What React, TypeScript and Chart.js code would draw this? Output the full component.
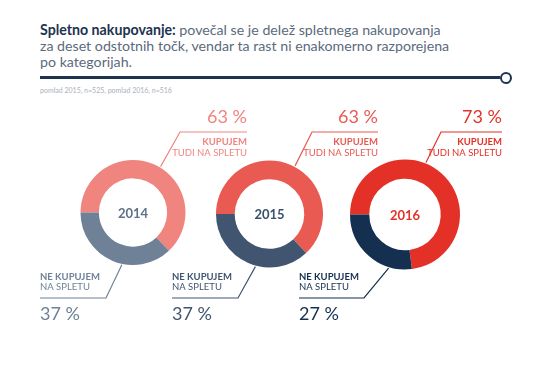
import React, { useEffect, useRef } from "react";
import { Chart, registerables } from "chart.js";

Chart.register(...registerables);

// ---- data ----
const years = ["2014", "2015", "2016"];
const buyOnline = [63, 63, 73];
const notOnline = [37, 37, 27];
const topLabelLines = ["KUPUJEM", "TUDI NA SPLETU"];
const bottomLabelLines = ["NE KUPUJEM", "NA SPLETU"];
const titleBold = "Spletno nakupovanje:";
const titleRest = [
  " povečal se je delež spletnega nakupovanja",
  "za deset odstotnih točk, vendar ta rast ni enakomerno razporejena",
  "po kategorijah.",
];
const sourceNote = "pomlad 2015, n=525, pomlad 2016, n=516";

// ---- styles / layout ----
const W = 550;
const H = 367;
const FONT = "Lato, 'Open Sans', sans-serif";
const palettes = [
  { red: "#F08580", dark: "#6E8196" },
  { red: "#E95A52", dark: "#415571" },
  { red: "#E33127", dark: "#152F50" },
];
const centerColors = ["#5E7189", "#3A4F6C", "#E33127"];
const layouts = [
  {
    cx: 133, cy: 212.5, r: 52.5,
    topAngle: 31, topCorner: [180, 132], topEnd: 247,
    botAngle: 192, botCorner: [106, 298], botStart: 40,
  },
  {
    cx: 269.5, cy: 214, r: 53.5,
    topAngle: 28, topCorner: [312, 132], topEnd: 378,
    botAngle: 195, botCorner: [238, 298], botStart: 172,
  },
  {
    cx: 405, cy: 214.5, r: 55,
    topAngle: 22, topCorner: [441, 132], topEnd: 502,
    botAngle: 197, botCorner: [364, 298], botStart: 299,
  },
];

function DonutChart({ idx }: { idx: number }) {
  const ref = useRef<HTMLCanvasElement | null>(null);
  useEffect(() => {
    if (!ref.current) return;
    const L = layouts[idx];
    const P = palettes[idx];
    const labelPlugin = {
      id: "labels" + idx,
      afterDraw(chart: any) {
        const ctx = chart.ctx as CanvasRenderingContext2D;
        const arc: any = chart.getDatasetMeta(0).data[0];
        if (!arc) return;
        const { x, y, outerRadius } = arc.getProps(["x", "y", "outerRadius"], true);
        ctx.save();
        // center year
        ctx.fillStyle = centerColors[idx];
        ctx.font = `bold 13px ${FONT}`;
        ctx.textAlign = "center";
        ctx.textBaseline = "middle";
        ctx.fillText(years[idx], x, y + 1);

        const pt = (deg: number) => {
          const a = (deg * Math.PI) / 180;
          const rr = outerRadius + 1;
          return [x + rr * Math.sin(a), y - rr * Math.cos(a)];
        };
        // top leader
        ctx.lineWidth = 1.2;
        ctx.strokeStyle = P.red;
        const ta = pt(L.topAngle);
        ctx.beginPath();
        ctx.moveTo(ta[0], ta[1]);
        ctx.lineTo(L.topCorner[0], L.topCorner[1]);
        ctx.lineTo(L.topEnd, L.topCorner[1]);
        ctx.stroke();
        // bottom leader
        ctx.strokeStyle = P.dark;
        const ba = pt(L.botAngle);
        ctx.beginPath();
        ctx.moveTo(ba[0], ba[1]);
        ctx.lineTo(L.botCorner[0], L.botCorner[1]);
        ctx.lineTo(L.botStart, L.botCorner[1]);
        ctx.stroke();

        // top texts
        ctx.textBaseline = "middle";
        ctx.textAlign = "right";
        ctx.fillStyle = P.red;
        ctx.font = `18px ${FONT}`;
        ctx.fillText(buyOnline[idx] + " %", L.topEnd, 117);
        ctx.font = `bold 9.5px ${FONT}`;
        ctx.fillText(topLabelLines[0], L.topEnd, 142);
        ctx.font = `9.5px ${FONT}`;
        ctx.fillText(topLabelLines[1], L.topEnd, 152.5);

        // bottom texts
        ctx.textAlign = "left";
        ctx.fillStyle = P.dark;
        ctx.font = `bold 9.5px ${FONT}`;
        ctx.fillText(bottomLabelLines[0], L.botStart, 276.5);
        ctx.font = `9.5px ${FONT}`;
        ctx.fillText(bottomLabelLines[1], L.botStart, 287);
        ctx.font = `18px ${FONT}`;
        ctx.fillText(notOnline[idx] + " %", L.botStart, 314);
        ctx.restore();
      },
    };
    const chart = new Chart(ref.current, {
      type: "doughnut",
      data: {
        labels: [topLabelLines.join(" "), bottomLabelLines.join(" ")],
        datasets: [
          {
            data: [buyOnline[idx], notOnline[idx]],
            backgroundColor: [P.red, P.dark],
            borderWidth: 0,
            hoverOffset: 0,
          },
        ],
      },
      options: {
        responsive: false,
        animation: false,
        events: [],
        cutout: "65%",
        rotation: -90,
        layout: {
          padding: {
            left: L.cx - L.r,
            right: W - L.cx - L.r,
            top: L.cy - L.r,
            bottom: H - L.cy - L.r,
          },
        },
        plugins: {
          legend: { display: false },
          tooltip: { enabled: false },
          title: { display: false },
        },
      },
      plugins: [labelPlugin],
    });
    return () => chart.destroy();
  }, [idx]);
  return (
    <canvas
      ref={ref}
      width={W}
      height={H}
      style={{ position: "absolute", left: 0, top: 0, width: W, height: H, pointerEvents: "none" }}
    />
  );
}

export default function App() {
  return (
    <div
      style={{
        position: "absolute",
        left: 0,
        top: 0,
        width: W,
        height: H,
        background: "#fff",
        overflow: "hidden",
        fontFamily: FONT,
      }}
    >
      <div
        style={{
          position: "absolute",
          left: 40,
          top: 22,
          fontSize: 14.2,
          lineHeight: "16px",
          color: "#5B6A7C",
          whiteSpace: "nowrap",
        }}
      >
        <span style={{ fontWeight: 700, color: "#1E3350" }}>{titleBold}</span>
        {titleRest[0]}
        <br />
        {titleRest[1]}
        <br />
        {titleRest[2]}
      </div>
      <div
        style={{
          position: "absolute",
          left: 40,
          top: 76,
          width: 460,
          height: 2.5,
          background: "#1E3350",
        }}
      />
      <div
        style={{
          position: "absolute",
          left: 499.5,
          top: 71.5,
          width: 8,
          height: 8,
          borderRadius: "50%",
          border: "2.5px solid #1E3350",
          background: "#fff",
        }}
      />
      <div
        style={{
          position: "absolute",
          left: 40,
          top: 86,
          fontSize: 7,
          color: "#A9B1BC",
          whiteSpace: "nowrap",
        }}
      >
        {sourceNote}
      </div>
      {years.map((_, i) => (
        <DonutChart key={i} idx={i} />
      ))}
    </div>
  );
}
